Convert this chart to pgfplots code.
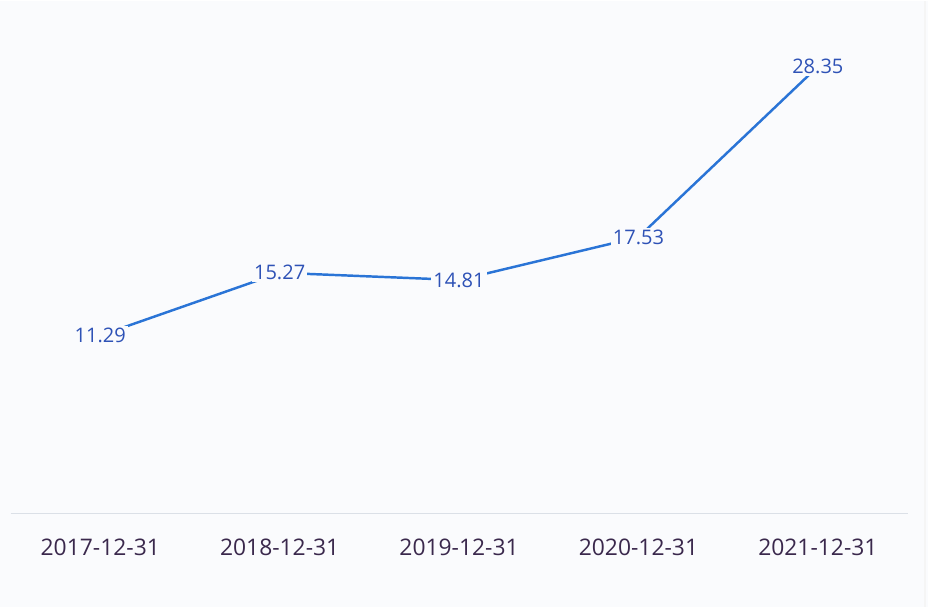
\documentclass[border=0pt]{standalone}
\usepackage{pgfplots}
\pgfplotsset{compat=1.18}
\usepackage{fontspec}
\setmainfont{Open Sans}
\definecolor{bgc}{RGB}{250,251,253}
\definecolor{axisc}{RGB}{219,224,231}
\definecolor{linec}{RGB}{42,116,214}
\definecolor{labc}{RGB}{46,82,182}
\definecolor{tickc}{RGB}{58,40,76}

\begin{document}
\begin{tikzpicture}
% canvas 928 x 606 px, 1px = 0.02cm
\fill[bgc] (0,0) rectangle (18.56cm,12.12cm);
\draw[gray!8, line width=0.6pt] (18.5cm,0) -- (18.5cm,12.12cm);
\begin{axis}[
  at={(2.005cm,1.86cm)}, anchor=origin,
  scale only axis, width=17.94cm, height=9.46cm,
  xmin=-0.5, xmax=4.5, ymin=0, ymax=30,
  axis y line=none, axis x line*=bottom,
  x axis line style={draw=axisc, line width=1.1pt, -},
  xtick=data, xticklabels={2017-12-31,2018-12-31,2019-12-31,2020-12-31,2021-12-31},
  major tick length=0pt,
  x tick label style={font=\fontsize{13}{15}\selectfont, text=tickc, yshift=-11pt},
  clip=false,
]
\addplot[color=linec, line width=1.4pt, mark=none,
  nodes near coords, point meta=explicit symbolic,
  every node near coord/.style={anchor=center, fill=bgc, inner sep=1.2pt,
    text=labc, font=\fontsize{11.4}{13}\selectfont},
] coordinates {
  (0,11.29) [11.29]
  (1,15.27) [15.27]
  (2,14.81) [14.81]
  (3,17.53) [17.53]
  (4,28.35) [28.35]
};
\end{axis}
\end{tikzpicture}
\end{document}
